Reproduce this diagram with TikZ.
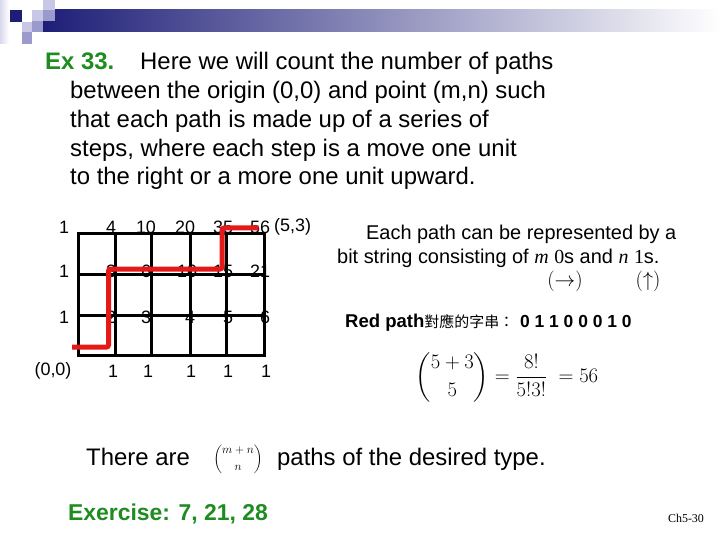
\documentclass[tikz,border=0pt]{standalone}
\usepackage{amsmath}
\usepackage{fontspec}
\setmainfont{Liberation Sans}
\newfontfamily\tnr{Liberation Serif}
\newfontfamily\cjk{Noto Sans CJK TC}
\definecolor{navy}{RGB}{30,30,120}
\definecolor{lav}{RGB}{200,200,230}
\definecolor{medlav}{RGB}{154,154,204}
\definecolor{grn}{RGB}{30,140,30}
\definecolor{pathred}{RGB}{230,25,25}
\begin{document}
\begin{tikzpicture}[x=1bp,y=-1bp,
  ttl/.style={font=\fontsize{24}{28}\selectfont, anchor=base west, inner sep=0},
  rtxt/.style={font=\fontsize{20}{24}\selectfont, anchor=base west, inner sep=0},
  num/.style={font=\fontsize{18}{21}\selectfont, inner sep=0},
  gridline/.style={line width=3bp, black},
  redpath/.style={line width=5bp, pathred, rounded corners=2bp}]
\useasboundingbox (0,0) rectangle (720,540);
% header decoration
\shade[left color=lav!70, right color=white] (0,0) rectangle (9,44);
\shade[left color=navy, right color=white] (43,10) rectangle (720,32);
\fill[navy] (10,10) rectangle (22,22);
\fill[lav] (22,22) rectangle (32,32);
\fill[medlav] (22,32) rectangle (32,44);
\fill[lav] (32,10) rectangle (43,21);
\fill[medlav] (32,21) rectangle (43,32);
\fill[lav] (43,0) rectangle (55,10);
\fill[medlav] (43,10) rectangle (55,21);
% title
\node[ttl, font=\fontsize{24}{28}\selectfont\bfseries, text=grn] (ex) at (45,69.5) {Ex 33.};
\node[ttl] (t1) at (140,69.5) {Here we will count the number of paths};
\node[ttl] (t2) at (70,98.5) {between the origin (0,0) and point (m,n) such};
\node[ttl] (t3) at (70,127.5) {that each path is made up of a series of};
\node[ttl] (t4) at (70,156.5) {steps, where each step is a move one unit};
\node[ttl] (t5) at (70,185) {to the right or a more one unit upward.};
% grid
\draw[gridline] (78.3,233.3) rectangle (264,355.3);
\foreach \x in {115,151.7,190,226} \draw[gridline] (\x,233.3) -- (\x,355.3);
\foreach \y in {274,315.7} \draw[gridline] (78.3,\y) -- (264,\y);
% numbers
\node[num] (a0) at (64,227) {1};
\node[num] (a1) at (111,227) {4};
\node[num] (a2) at (146,227) {10};
\node[num] (a3) at (185,227) {20};
\node[num] (a4) at (223,227) {35};
\node[num] (a5) at (260,227) {56};
\node[num, anchor=west] (pt) at (274,227) {(5,3)};
\node[num] (b0) at (64,271) {1};
\node[num] (b1) at (111,271) {3};
\node[num] (b2) at (146,271) {6};
\node[num] (b3) at (187,271) {10};
\node[num] (b4) at (223,271) {15};
\node[num] (b5) at (260,271) {21};
\node[num] (c0) at (64,317) {1};
\node[num] (c1) at (111,317) {2};
\node[num] (c2) at (146,317) {3};
\node[num] (c3) at (190,317) {4};
\node[num] (c4) at (228,317) {5};
\node[num] (c5) at (265,317) {6};
\node[num] (d0) at (53,371) {(0,0)};
\node[num] (d1) at (113,371) {1};
\node[num] (d2) at (148,371) {1};
\node[num] (d3) at (191,371) {1};
\node[num] (d4) at (228,371) {1};
\node[num] (d5) at (266,371) {1};
% red path
\coordinate (rs) at (72,347);
\coordinate (re) at (258.5,228);
\draw[redpath] (rs) -- (108.5,347) -- (108.5,269) -- (222,269) -- (222,228) -- (re);
% right text
\node[rtxt] (r1) at (366,240) {Each path can be represented by a};
\node[rtxt] (r2) at (337,263.5) {bit string consisting of {\tnr\itshape m} {\tnr 0}s and {\tnr\itshape n} {\tnr 1}s.};
\node[font=\fontsize{20}{24}\selectfont, anchor=base, inner sep=0] (ar1) at (565,287) {$(\rightarrow)$};
\node[font=\fontsize{20}{24}\selectfont, anchor=base, inner sep=0] (ar2) at (648,287) {$(\uparrow)$};
\node[font=\fontsize{18.6}{22}\selectfont\bfseries, anchor=base west, inner sep=0] (rp) at (345,327)
  {Red path{\cjk\mdseries\fontsize{15}{18}\selectfont 對應的字串：}\hspace{6bp}{\fontsize{17.5}{21}\selectfont 0 1 1 0 0 0 1 0}};
% formula
\node[font=\fontsize{20}{24}\selectfont, inner sep=0] (fm) at (507,377)
  {$\displaystyle \binom{5+3}{5} = \frac{8!}{5!3!}\; = 56$};
% bottom
\node[ttl] (th) at (86,465) {There are};
\node[font=\fontsize{13}{15}\selectfont, inner sep=0] (bn) at (238,459) {$\displaystyle\binom{m+n}{n}$};
\node[ttl] (pa) at (277,465) {paths of the desired type.};
\node[ttl, font=\fontsize{23}{27}\selectfont\bfseries, text=grn] (exer) at (68,520) {Exercise: 7, 21, 28};
\node[font=\tnr\fontsize{12}{14}\selectfont, inner sep=0] (ch) at (686,518) {Ch5-30};
\end{tikzpicture}
\end{document}
